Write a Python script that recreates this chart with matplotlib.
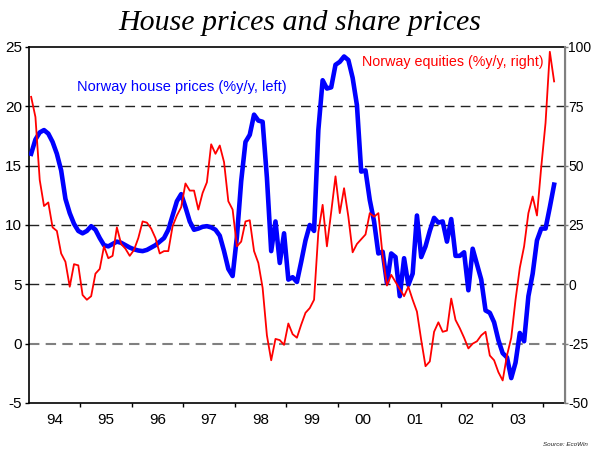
import numpy as np
import matplotlib
matplotlib.use("Agg")
import matplotlib.pyplot as plt
from matplotlib.ticker import FixedLocator, NullFormatter

plt.rcParams['font.family'] = ['Liberation Sans', 'DejaVu Sans']

# Monthly data, Jan 1994 .. Mar 2004
start_year = 1994
house = [16.0, 17.2, 17.8, 18.0, 17.7, 17.0, 16.0, 14.6, 12.2, 11.0,
         10.1, 9.5, 9.3, 9.5, 9.9, 9.6, 8.9, 8.3, 8.2, 8.4,
         8.6, 8.5, 8.3, 8.1, 7.95, 7.85, 7.8, 7.9, 8.1, 8.3,
         8.6, 8.9, 9.6, 10.8, 12.0, 12.6, 11.5, 10.3, 9.6, 9.7,
         9.85, 9.9, 9.8, 9.6, 9.1, 7.8, 6.3, 5.7, 9.0, 13.7,
         17.0, 17.6, 19.3, 18.8, 18.7, 14.0, 7.8, 10.3, 6.8, 9.3,
         5.4, 5.6, 5.2, 6.9, 8.7, 10.0, 9.5, 18.0, 22.2, 21.5,
         21.6, 23.5, 23.75, 24.2, 23.9, 22.4, 20.1, 14.5, 14.6, 12.1,
         10.3, 7.6, 7.75, 5.1, 7.6, 7.3, 4.0, 7.2, 4.95, 5.9,
         10.8, 7.3, 8.2, 9.5, 10.6, 10.2, 10.3, 8.6, 10.5, 7.4,
         7.4, 7.7, 4.5, 8.0, 6.7, 5.4, 2.8, 2.6, 1.8, 0.3,
         -0.8, -1.15, -2.9, -1.6, 0.9, 0.2, 4.0, 5.9, 8.7, 9.7,
         9.7, 11.5, 13.4]

equities = [79.0, 70.5, 44.0, 33.0, 34.5, 24.0, 22.5, 13.0, 9.5, -1.0,
            8.5, 8.0, -4.5, -6.5, -5.0, 4.5, 6.5, 16.0, 11.0, 12.0,
            24.0, 17.0, 15.0, 12.0, 14.5, 19.5, 26.5, 26.0, 23.5, 19.5,
            13.0, 14.0, 14.0, 24.5, 29.0, 32.5, 42.5, 39.5, 39.5, 31.5,
            38.5, 43.0, 59.0, 55.0, 58.5, 51.5, 35.0, 31.5, 16.0, 18.0,
            26.5, 27.0, 14.0, 9.0, -1.5, -21.5, -32.0, -23.0, -23.5, -25.5,
            -16.5, -21.0, -22.5, -17.0, -12.0, -10.0, -6.5, 22.0, 33.5, 16.0,
            30.5, 45.5, 30.0, 40.5, 28.5, 13.5, 17.0, 19.0, 21.0, 30.0,
            28.5, 30.0, 12.0, -0.5, 4.0, 1.0, -2.0, -5.0, -1.0, -6.5,
            -11.5, -23.5, -34.5, -32.5, -20.0, -16.0, -20.0, -19.5, -6.0, -15.0,
            -18.5, -22.5, -27.0, -25.0, -24.0, -21.5, -20.0, -30.0, -32.0, -37.0,
            -40.5, -30.0, -22.5, -6.5, 7.0, 16.0, 30.0, 37.0, 29.0, 49.5,
            68.0, 98.0, 85.5]

year_labels = ['94', '95', '96', '97', '98', '99', '00', '01', '02', '03']
left_ticks = [-5, 0, 5, 10, 15, 20, 25]
right_ticks = [-50, -25, 0, 25, 50, 75, 100]

title = 'House prices and share prices'
house_label = 'Norway house prices (%y/y, left)'
eq_label = 'Norway equities (%y/y, right)'
source = 'Source: EcoWin'

x = start_year + (np.arange(len(house)) + 0.5) / 12.0

fig = plt.figure(figsize=(5.91, 4.5), dpi=100)
ax = fig.add_axes([29/591, 1-403/450, (565-29)/591, (403-47)/450])
ax2 = ax.twinx()

ax.set_xlim(1994.0, 2004.42)
ax.set_ylim(-5, 25)
ax2.set_ylim(-50, 100)

# grid lines
for v in [5, 10, 15, 20]:
    ax.axhline(v, color='#222222', lw=1.0, dashes=(7, 4.5), zorder=1)
ax.axhline(0, color='#808080', lw=1.5, dashes=(5, 3), zorder=1)

ax.plot(x, house, color='#0000ff', lw=3.3, zorder=3, solid_joinstyle='round')
ax2.plot(x, equities, color='#ff0000', lw=1.3, zorder=3)

ax.set_yticks(left_ticks)
ax.set_yticklabels([str(t) for t in left_ticks])
ax2.set_yticks(right_ticks)
ax2.set_yticklabels([str(t) for t in right_ticks])

years = np.arange(1995, 2005)
ax.xaxis.set_major_locator(FixedLocator(years))
ax.xaxis.set_major_formatter(NullFormatter())
ax.xaxis.set_minor_locator(FixedLocator(np.arange(1994, 2004) + 0.5))
ax.set_xticklabels(year_labels, minor=True)
ax.tick_params(axis='x', which='minor', length=0, pad=7, labelsize=11)
ax.tick_params(axis='x', which='major', length=3, width=1, direction='out')
ax.tick_params(axis='y', length=3, width=1, direction='out', labelsize=11, pad=2)
ax2.tick_params(axis='y', length=2, width=1, direction='out', labelsize=10, pad=0.5,
                color='#808080')

for s in ['left', 'bottom', 'top']:
    ax.spines[s].set_linewidth(1.2)
ax2.spines['right'].set_color('#808080')
ax2.spines['right'].set_linewidth(1.5)
for s in ['left', 'bottom', 'top']:
    ax2.spines[s].set_visible(False)

fig.text(77/591, 1-87/450, house_label, color='#0000ff', fontsize=10.5,
         va='center', ha='left')
fig.text(362/591, 1-62/450, eq_label, color='#ff0000', fontsize=10.3,
         va='center', ha='left')
fig.text(300/591, 1-23/450, title, family=['Liberation Serif'], style='italic',
         fontsize=21.5, ha='center', va='center')
fig.text(588/591, 1-445/450, source, fontsize=4.5, style='italic', ha='right',
         va='center', color='#222222')

fig.savefig('out.png', dpi=100, facecolor='white')
